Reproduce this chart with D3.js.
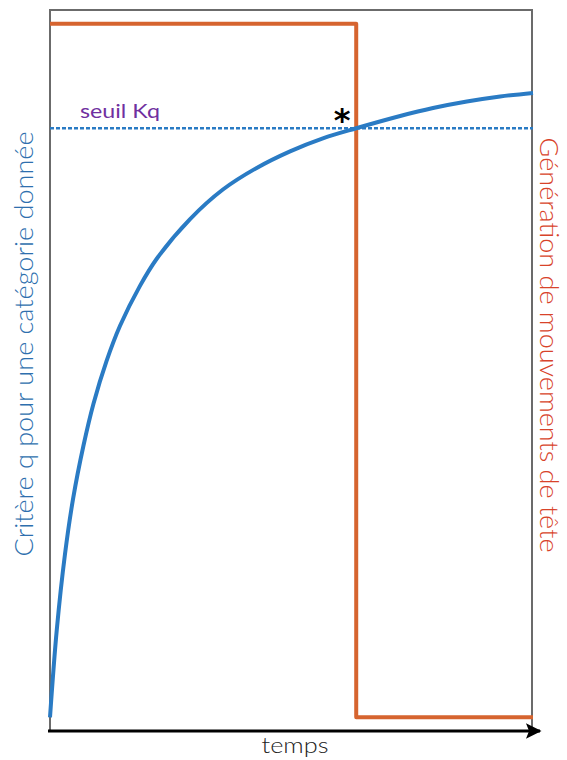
<!DOCTYPE html>
<html><head><meta charset="utf-8">
<script src="https://cdn.jsdelivr.net/npm/d3@7"></script>
<style>html,body{margin:0;padding:0;background:#fff;}svg{display:block;}</style>
</head><body>
<svg id="chart" width="567" height="760"></svg>
<script>
// Data: time 0..100, criterion 0..100
const time = [0, 1.4, 3.1, 4.8, 6.9, 9.0, 11.7, 14.5, 18.6, 22.1, 29.0, 35.8, 42.8, 49.7, 56.5, 63.4, 72.5, 79.3, 86.3, 93.2, 100];
const criterion = [1.9, 14.0, 24.5, 32.3, 39.5, 45.4, 51.3, 56.2, 61.7, 65.5, 71.0, 75.1, 78.1, 80.4, 82.2, 83.6, 85.3, 86.4, 87.3, 88.0, 88.5];
const stepTime = [0, 63.4, 63.4, 100];
const stepValue = [98.1, 98.1, 1.9, 1.9];
const threshold = [83.6];
const thresholdLabel = ["seuil Kq"];
const labels = ["Critère q pour une catégorie donnée", "Génération de mouvements de tête", "temps"];

const svg = d3.select("#chart");
const x = d3.scaleLinear().domain([0, 100]).range([50, 533]);
const y = d3.scaleLinear().domain([0, 100]).range([731, 10]);

// frame
svg.append("rect").attr("x", x(0)).attr("y", y(100)).attr("width", x(100) - x(0) - 1).attr("height", y(0) - y(100))
  .attr("fill", "none").attr("stroke", "#6b6b6b").attr("stroke-width", 2);

// threshold dotted line
svg.append("line").attr("x1", x(0)).attr("x2", x(100)).attr("y1", y(threshold[0])).attr("y2", y(threshold[0]))
  .attr("stroke", "#2a7bc4").attr("stroke-width", 2.5).attr("stroke-dasharray", "4,2");

// orange step
const stepData = stepTime.map((t, i) => [t, stepValue[i]]);
svg.append("path").datum(stepData)
  .attr("d", d3.line().x(d => x(d[0])).y(d => y(d[1])))
  .attr("fill", "none").attr("stroke", "#d6642f").attr("stroke-width", 4).attr("stroke-linejoin", "round");

// blue curve
const curveData = time.map((t, i) => [t, criterion[i]]);
svg.append("path").datum(curveData)
  .attr("d", d3.line().x(d => x(d[0])).y(d => y(d[1])).curve(d3.curveCatmullRom.alpha(0.5)))
  .attr("fill", "none").attr("stroke", "#2a7bc4").attr("stroke-width", 4);

// x axis arrow
svg.append("defs").append("marker").attr("id", "arrow").attr("viewBox", "0 0 10 10")
  .attr("refX", 9).attr("refY", 5).attr("markerWidth", 6).attr("markerHeight", 5.2)
  .attr("markerUnits", "strokeWidth").attr("orient", "auto")
  .append("path").attr("d", "M0,0 L10,5 L0,10 L2,5 Z").attr("fill", "#000");
svg.append("line").attr("x1", x(0) - 2).attr("x2", 540).attr("y1", 731).attr("y2", 731)
  .attr("stroke", "#000").attr("stroke-width", 3).attr("marker-end", "url(#arrow)");

const font = "Lato, 'Open Sans', sans-serif";

// threshold label
svg.append("text").attr("x", 80).attr("y", y(threshold[0]) - 10).text(thresholdLabel[0])
  .attr("font-family", font).attr("font-size", 20).attr("fill", "#7030a0")
  .attr("textLength", 80).attr("lengthAdjust", "spacingAndGlyphs");

// asterisk
svg.append("text").attr("x", 342).attr("y", 131).attr("text-anchor", "middle").text("*")
  .attr("font-family", "'DejaVu Sans', sans-serif").attr("font-weight", "bold").attr("font-size", 32).attr("fill", "#000");

// left label
svg.append("text").attr("transform", "translate(33,344) rotate(-90)").attr("text-anchor", "middle")
  .text(labels[0]).attr("font-family", font).attr("font-weight", 300).attr("font-size", 25).attr("fill", "#2e6fae")
  .attr("textLength", 425).attr("lengthAdjust", "spacingAndGlyphs");

// right label
svg.append("text").attr("transform", "translate(540,345) rotate(90)").attr("text-anchor", "middle")
  .text(labels[1]).attr("font-family", font).attr("font-weight", 300).attr("font-size", 25).attr("fill", "#d8432a")
  .attr("textLength", 415).attr("lengthAdjust", "spacingAndGlyphs");

// x label
svg.append("text").attr("x", 295).attr("y", 753).attr("text-anchor", "middle").text(labels[2])
  .attr("font-family", font).attr("font-weight", 300).attr("font-size", 22).attr("fill", "#222")
  .attr("textLength", 67).attr("lengthAdjust", "spacingAndGlyphs");
</script>
</body></html>
